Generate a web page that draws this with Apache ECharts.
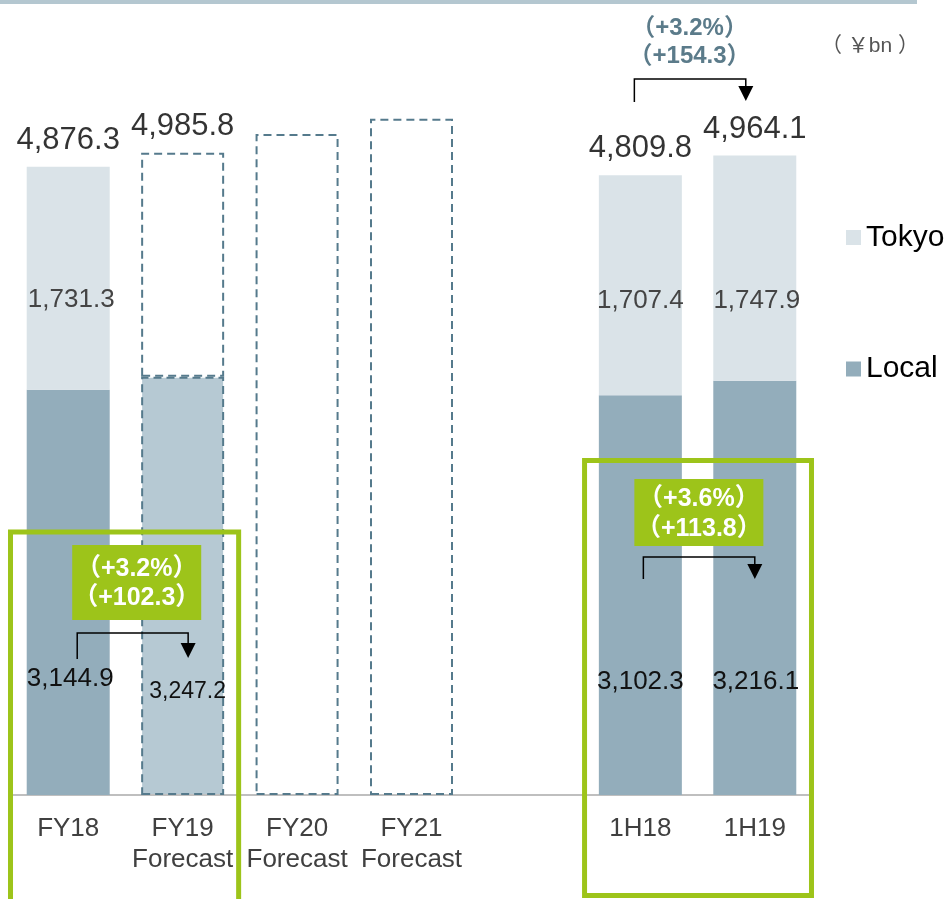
<!DOCTYPE html>
<html>
<head>
<meta charset="utf-8">
<script src="https://cdn.jsdelivr.net/npm/echarts@6/dist/echarts.min.js"></script>
<style>html,body{margin:0;padding:0;background:#fff}#c{width:949px;height:899px}</style>
</head>
<body>
<div id="c"></div>
<script>
// ---- data ----
const categories = ['FY18', 'FY19\nForecast', 'FY20\nForecast', 'FY21\nForecast', '', '1H18', '1H19'];
const localValues = [3144.9, 3247.2, '-', '-', '-', 3102.3, 3216.1];
const tokyoValues = [1731.3, 1738.6, '-', '-', '-', 1707.4, 1747.9];
const totalValues = [4876.3, 4985.8, '-', '-', '-', 4809.8, 4964.1];
const placeholderValues = ['-', '-', 5130, 5250, '-', '-', '-'];
const tokyoShowLabel = [true, false, false, false, false, true, true];
const noteTop = ['（+3.2%）', '（+154.3）'];
const noteFY = ['（+3.2%）', '（+102.3）'];
const note1H = ['（+3.6%）', '（+113.8）'];
const unitText = '（ ￥bn ）';

// ---- styles ----
const FONT = '"Liberation Sans", Arial, "Noto Sans CJK JP", sans-serif';
const C_TOKYO = '#dae3e8', C_LOCAL = '#93adbb', C_LOCAL_FC = '#b6c9d3';
const C_DASH = '#557a8c', GREEN = '#9dc41a';
const dashed = {borderColor: C_DASH, borderWidth: 2, borderType: [8, 5]};
const tokyoOffsets = [[3, 22], null, null, null, null, [0, 15], [2, 32.5]];
const localOffsets = [[2, 86], [5, 105.5], null, null, null, [0, 86.5], [1, 94]];
const localFont = [26, 23, 26, 26, 26, 26, 26];
const fmt = v => Number(v).toLocaleString('en-US', {minimumFractionDigits: 1, maximumFractionDigits: 1});

const localData = localValues.map((v, i) => {
  const o = {value: v};
  if (i === 1) o.itemStyle = Object.assign({color: C_LOCAL_FC}, dashed);
  if (localOffsets[i]) o.label = {offset: localOffsets[i], fontSize: localFont[i]};
  return o;
});
const tokyoData = tokyoValues.map((v, i) => {
  const o = {value: v};
  if (i === 1) o.itemStyle = Object.assign({color: '#ffffff'}, dashed);
  o.label = tokyoShowLabel[i] ? {show: true, offset: tokyoOffsets[i]} : {show: false};
  return o;
});
const totalData = totalValues.map((v, i) => [i, v]);

const chart = echarts.init(document.getElementById('c'));
chart.setOption({
  animation: false,
  textStyle: {fontFamily: FONT},
  grid: {left: 11, right: 137, top: 22, bottom: 104, containLabel: false},
  legend: {
    data: ['Tokyo', 'Local'], orient: 'vertical', left: 846, top: 222.5, padding: 0,
    itemWidth: 15, itemHeight: 15, itemGap: 101.5, icon: 'rect',
    textStyle: {fontSize: 30, lineHeight: 30, color: '#000', fontFamily: FONT}
  },
  xAxis: {
    type: 'category', data: categories,
    axisLine: {lineStyle: {color: '#aaaaaa', width: 1.5}},
    axisTick: {show: false},
    axisLabel: {color: '#404040', fontSize: 26, lineHeight: 31, margin: 18, interval: 0, fontFamily: FONT}
  },
  yAxis: {type: 'value', min: 0, max: 6000, show: false, splitLine: {show: false}},
  series: [
    {
      name: 'Local', type: 'bar', stack: 'a', barWidth: 83, data: localData,
      itemStyle: {color: C_LOCAL},
      label: {show: true, position: 'inside', color: '#111', fontSize: 26,
              formatter: p => fmt(p.value), fontFamily: FONT}
    },
    {
      name: 'Tokyo', type: 'bar', stack: 'a', barWidth: 83, data: tokyoData,
      itemStyle: {color: C_TOKYO},
      label: {show: true, position: 'inside', color: '#444', fontSize: 26,
              formatter: p => fmt(p.value), fontFamily: FONT}
    },
    {
      name: 'Plan', type: 'bar', stack: 'a', barWidth: 83, data: placeholderValues,
      itemStyle: Object.assign({color: 'rgba(255,255,255,0)'}, dashed),
      label: {show: false}
    },
    {
      name: 'Total', type: 'scatter', data: totalData, symbolSize: 0,
      label: {show: true, position: 'top', distance: 11, color: '#000', fontSize: 31, lineHeight: 31,
              formatter: p => fmt(p.value[1]), fontFamily: FONT},
      z: 5
    }
  ]
});

// ---- annotations anchored to the axis ----
const X = i => chart.convertToPixel({gridIndex: 0}, [i, 0])[0];
const Y0 = chart.convertToPixel({gridIndex: 0}, [0, 0])[1];
const gtext = (text, x, y, fs, fill, bold, lh) => ({
  type: 'text', z: 20,
  style: {text, x, y, fill, fontSize: fs, fontWeight: bold ? 'bold' : 'normal', fontFamily: FONT,
          align: 'center', verticalAlign: 'middle', textAlign: 'center', textVerticalAlign: 'middle',
          lineHeight: lh || fs}
});
const bracket = (x1, x2, yBottom, yTop, tip) => ([
  {type: 'polyline', z: 20, shape: {points: [[x1, yBottom], [x1, yTop], [x2, yTop], [x2, tip - 12]]},
   style: {stroke: '#000', lineWidth: 1.5, fill: null}},
  {type: 'polygon', z: 20, shape: {points: [[x2 - 7.5, tip - 15], [x2 + 7.5, tip - 15], [x2, tip]]},
   style: {fill: '#000'}}
]);

const x0 = X(0), x1 = X(1), x5 = X(5), x6 = X(6);
const graphics = [
  {type: 'rect', z: 20, shape: {x: 0, y: 0, width: 917, height: 4}, style: {fill: '#b4c7d0'}},
  gtext(unitText, 870, 46, 21, '#555', false),
  gtext(noteTop.join('\n'), (x5 + x6) / 2 - 8, 42, 24, '#5b7b8a', true, 28),
  ...bracket(x5 - 6, x6 - 9, 102, 79, 101),
  // green outline boxes
  {type: 'rect', z: 15, shape: {x: x0 - 57.7, y: 532, width: (x1 + 56) - (x0 - 57.7), height: 420},
   style: {stroke: GREEN, lineWidth: 5, fill: null}},
  {type: 'rect', z: 15, shape: {x: x5 - 55.8, y: 460.5, width: (x6 + 56.7) - (x5 - 55.8), height: Y0 + 100.5 - 460.5},
   style: {stroke: GREEN, lineWidth: 5, fill: null}},
  // green labels
  {type: 'rect', z: 18, shape: {x: x0 + 4, y: 545, width: 129, height: 75}, style: {fill: GREEN}},
  gtext(noteFY.join('\n'), x0 + 68.5, 584, 25, '#fff', true, 29),
  ...bracket(x0 + 9, x1 + 5.5, 659, 633, 658),
  {type: 'rect', z: 18, shape: {x: x5 - 6, y: 479, width: 129, height: 67}, style: {fill: GREEN}},
  gtext(note1H.join('\n'), x5 + 58.5, 514, 25, '#fff', true, 30),
  ...bracket(x5 + 3, x6, 579, 557, 579)
];
chart.setOption({graphic: graphics});
</script>
</body>
</html>
